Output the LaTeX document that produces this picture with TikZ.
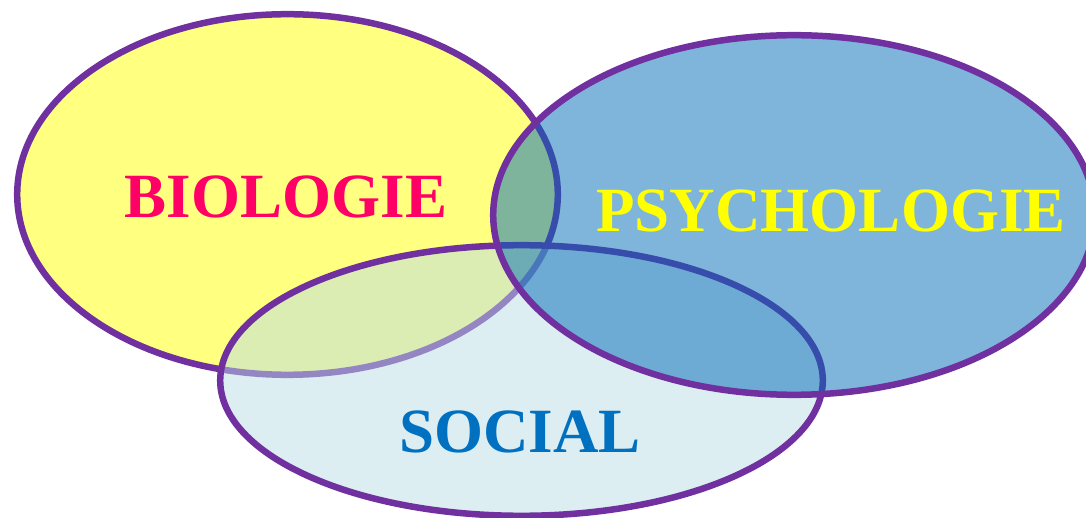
\documentclass[tikz,border=0pt]{standalone}
\usepackage{fontspec}
\setmainfont{Liberation Serif}
\definecolor{rim}{RGB}{112,48,160}
\definecolor{bioyellow}{RGB}{255,255,128}
\definecolor{psyblue}{RGB}{0,106,184}
\definecolor{socblue}{RGB}{185,221,229}
\definecolor{biotext}{RGB}{255,0,102}
\definecolor{psytext}{RGB}{255,255,0}
\definecolor{soctext}{RGB}{0,112,192}
\begin{document}
\begin{tikzpicture}[x=1pt,y=-1pt,
  setblob/.style={draw=rim,line width=6.5pt},
  label/.style={font=\fontsize{63}{63}\selectfont\bfseries,anchor=base,inner sep=0pt}]
\useasboundingbox (0,0) rectangle (1086,518);
\begin{scope}
\clip (0,0) rectangle (1086,518);
\path[setblob,fill=bioyellow] (287.5,194.5) ellipse [x radius=270.3,y radius=180.3];
\path[setblob,fill=socblue,fill opacity=0.5,draw opacity=1] (521.5,380.5) ellipse [x radius=301.3,y radius=135.3];
\path[setblob,fill=psyblue,fill opacity=0.5] (794,215) ellipse [x radius=300.8,y radius=179.8];
\end{scope}
\node[label,text=biotext] (bio) at (286,218) {BIOLOGIE};
\node[label,text=psytext] (psy) at (831,232) {PSYCHOLOGIE};
\node[label,text=soctext] (soc) at (520,452) {SOCIAL};
\end{tikzpicture}
\end{document}
